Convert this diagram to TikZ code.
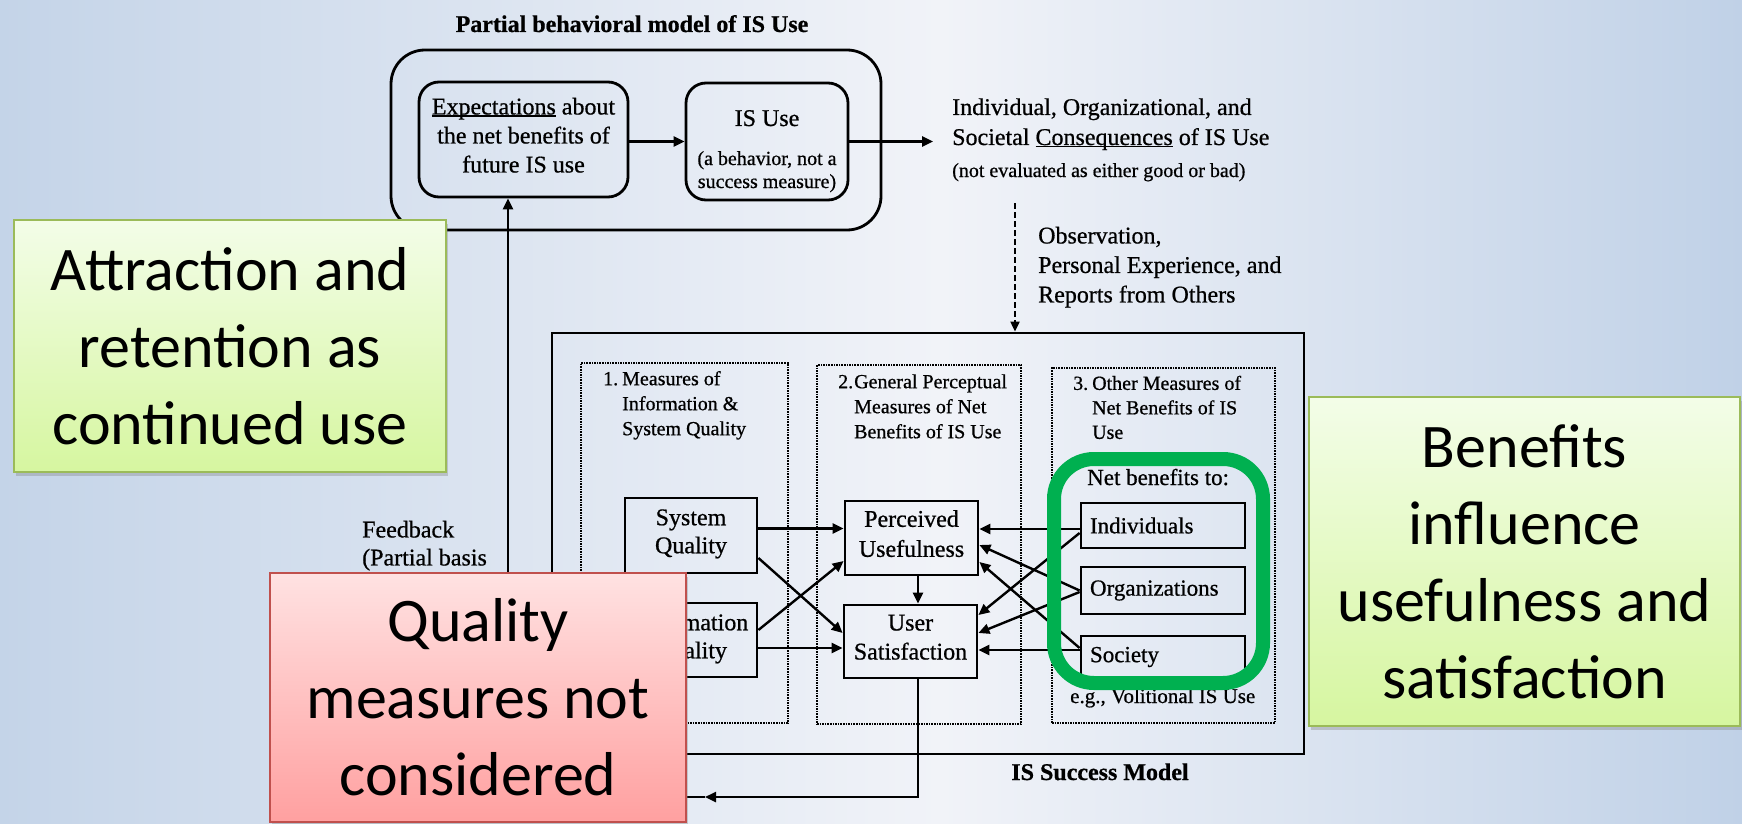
\documentclass[tikz,border=0pt]{standalone}
\usepackage{fontspec}
\setmainfont{Liberation Serif}[RawFeature={embolden=0.7}]
\newfontfamily\calloutfont{Carlito}
\usetikzlibrary{arrows.meta,calc,shadows}

\definecolor{hlgreen}{RGB}{0,176,80}
\definecolor{cgtop}{RGB}{243,253,232}
\definecolor{cgbot}{RGB}{214,246,160}
\definecolor{cgborder}{RGB}{155,187,89}
\definecolor{crtop}{RGB}{255,226,226}
\definecolor{crbot}{RGB}{255,160,160}
\definecolor{crborder}{RGB}{192,80,77}

\pgfdeclarehorizontalshading{pagebg}{100bp}{%
  rgb(0bp)=(0.769,0.831,0.910);
  rgb(25bp)=(0.769,0.831,0.910);
  rgb(52bp)=(0.945,0.953,0.973);
  rgb(75bp)=(0.753,0.820,0.906);
  rgb(100bp)=(0.753,0.820,0.906)}

% underline set close to the baseline
\newsavebox\ulbox
\newcommand\baseul[1]{\sbox\ulbox{#1}\rlap{\rule[-2.2pt]{\wd\ulbox}{1.3pt}}\usebox{\ulbox}}

\begin{document}
\begin{tikzpicture}[x=1pt,y=-1pt,
  arr/.style={line width=2.4pt,-{Triangle[length=11pt,width=10pt]}},
  box/.style={draw,line width=2.8pt,inner sep=0pt,align=center},
  rbox/.style={box,rounded corners=20pt},
  colbox/.style={draw,densely dotted,line width=1.6pt,inner sep=0pt},
  nbox/.style={box,text width=146pt,inner xsep=9pt,align=left,
    font=\fontsize{23}{28}\selectfont},
  big/.style={font=\fontsize{24}{29}\selectfont},
  small/.style={font=\fontsize{20}{24}\selectfont},
  plain/.style={inner sep=0pt},
  callout/.style={line width=2.5pt,align=center,inner sep=0pt,
    font=\calloutfont\fontsize{62}{77}\selectfont,
    drop shadow={shadow xshift=2pt,shadow yshift=-4pt,opacity=.35}},
  callgreen/.style={callout,draw=cgborder,top color=cgtop,bottom color=cgbot},
  callred/.style={callout,draw=crborder,top color=crtop,bottom color=crbot}]

\useasboundingbox (0,0) rectangle (1742,824);
\shade[shading=pagebg] (0,0) rectangle (1742,824);

% ---- partial behavioral model ----
\node[plain,anchor=base,font=\bfseries\fontsize{24}{28}\selectfont] (PBtitle) at (632,32)
  {Partial behavioral model of IS Use};
\node[rbox,rounded corners=34pt,minimum width=490pt,minimum height=180pt] (PB) at (636,140) {};
\node[rbox,minimum width=209pt,minimum height=115pt,big] (Exp) at (523.5,139.5)
  {\baseul{Expectations} about\\the net benefits of\\future IS use\strut};
\node[rbox,minimum width=162pt,minimum height=117pt] (ISUse) at (767,141.5) {};
\node[plain,anchor=base,big] (ISUseA) at (767,126) {IS Use};
\node[plain,anchor=base,small] (ISUseB) at (767,165) {(a behavior, not a};
\node[plain,anchor=base,small] (ISUseC) at (767,188) {success measure)};

\node[plain,anchor=base west,big] (cons1) at (952,115) {Individual, Organizational, and};
\node[plain,anchor=base west,big] (cons2) at (952,145) {Societal \baseul{Consequences} of IS Use};
\node[plain,anchor=base west,small] (cons3) at (952,177) {(not evaluated as either good or bad)};

\draw[arr] (Exp.east |- ISUse.west) -- (ISUse.west);
\draw[arr] (ISUse.east) -- ($(cons2.west |- ISUse.east)+(-19,0)$);

\node[plain,anchor=north west,align=left,font=\fontsize{24}{29.5}\selectfont] (obs) at (1038,226.6)
  {Observation,\\Personal Experience, and\\Reports from Others};

% ---- IS success model ----
\node[draw,line width=2.8pt,inner sep=0pt,minimum width=752pt,minimum height=421pt] (ISS) at (928,543.5) {};
\node[plain,anchor=base,font=\bfseries\fontsize{24}{28}\selectfont] (ISStitle) at (1100,780) {IS Success Model};

\coordinate (dashTop) at (1015,203);
\draw[line width=2pt,dash pattern=on 6pt off 3pt,-{Triangle[length=10pt,width=9pt]}]
  (dashTop) -- (dashTop |- ISS.north);

\node[colbox,minimum width=207pt,minimum height=360pt] (C1) at (684.5,543) {};
\node[colbox,minimum width=204pt,minimum height=359pt] (C2) at (919,544.5) {};
\node[colbox,minimum width=223pt,minimum height=355pt] (C3) at (1163.5,545.5) {};

\node[plain,anchor=north west,font=\fontsize{20}{25}\selectfont] (C1t) at (603,367.5)
  {\begin{tabular}{@{}l@{\hspace{4pt}}l@{}}1. & Measures of\\ & Information \&\\ & System Quality\end{tabular}};
\node[plain,anchor=north west,font=\fontsize{20}{25}\selectfont] (C2t) at (838,370.5)
  {\begin{tabular}{@{}l@{\hspace{1pt}}l@{}}2. & General Perceptual\\ & Measures of Net\\ & Benefits of IS Use\end{tabular}};
\node[plain,anchor=north west,font=\fontsize{20}{24.5}\selectfont] (C3t) at (1073,372.5)
  {\begin{tabular}{@{}l@{\hspace{4pt}}l@{}}3. & Other Measures of\\ & Net Benefits of IS\\ & Use\end{tabular}};

\node[box,minimum width=132pt,minimum height=75pt,font=\fontsize{24}{28}\selectfont] (SQ) at (691,535.5)
  {System\\Quality\strut};
\node[box,minimum width=132pt,minimum height=74pt,font=\fontsize{24}{28}\selectfont] (IQ) at (691,640)
  {Information\\Quality\strut};
\node[box,minimum width=133pt,minimum height=74pt,font=\fontsize{24}{30}\selectfont] (PU) at (911.5,538)
  {Perceived\\Usefulness\strut};
\node[box,minimum width=133pt,minimum height=73pt,font=\fontsize{24}{29}\selectfont] (US) at (910.5,641.5)
  {User\\Satisfaction\strut};

\node[plain,anchor=base west,font=\fontsize{23}{28}\selectfont] (NBt) at (1087,485) {Net benefits to:};
\node[nbox,minimum height=45pt] (Ind) at (1163,525.5) {Individuals};
\node[nbox,minimum height=47pt] (Org) at (1163,590.5) {Organizations};
\node[nbox,minimum height=42pt] (Soc) at (1163,657) {Society};
\node[plain,anchor=base west,font=\fontsize{21}{25}\selectfont] (eg) at (1070,703) {e.g., Volitional IS Use};

% quality -> perceptions
\draw[arr] ([yshift=7pt]SQ.east) -- ([yshift=7pt]SQ.east -| PU.west);
\draw[arr] ([yshift=-22.5pt]SQ.east) -- ([yshift=8.5pt]US.west);
\draw[arr] ([yshift=10pt]IQ.east) -- ([yshift=-23pt]PU.west);
\draw[arr] ([yshift=-8pt]IQ.east) -- ([yshift=-8pt]IQ.east -| US.west);
\draw[arr] ([xshift=6.5pt]PU.south) -- ([xshift=6.5pt]PU.south |- US.north);

% net benefits -> perceptions
\draw[arr] ([yshift=-3.5pt]Ind.west) -- ([yshift=-3.5pt]Ind.west -| PU.east);
\draw[arr] ([yshift=-7.5pt]Ind.west) -- ([yshift=26.5pt]US.east);
\draw[arr] (Org.west) -- ([yshift=-7pt]PU.east);
\draw[arr] ([yshift=-1.5pt]Org.west) -- ([yshift=8.5pt]US.east);
\draw[arr] ([yshift=9pt]Soc.west) -- ([yshift=-24pt]PU.east);
\draw[arr] ([yshift=7pt]Soc.west) -- ([yshift=7pt]Soc.west -| US.east);

% feedback loop
\coordinate (fbLow) at (918,797);
\coordinate (fbMid) at (705,797);
\coordinate (fbLeft) at (508,797);
\draw[arr] ([xshift=7.5pt]US.south) -- ([xshift=7.5pt]US.south |- fbLow) -- (fbMid);
\draw[arr] (fbMid) -- (fbLeft) -- (fbLeft |- Exp.south);
\node[plain,anchor=north west,align=left,font=\fontsize{24}{28}\selectfont] (fbText) at (362,520.6)
  {Feedback\\(Partial basis};

% highlight of the net benefit measures
\node[draw=hlgreen,line width=14pt,rounded corners=40pt,inner sep=0pt,
  minimum width=209pt,minimum height=224pt] (HL) at (1158.5,571) {};

% ---- callouts ----
\node[callgreen,minimum width=432pt,minimum height=252pt] (CG1) at (230,346)
  {Attraction and\\retention as\\continued use};
\node[callgreen,minimum width=431pt,minimum height=329pt] (CG2) at (1524.5,561.5)
  {Benefits\\influence\\usefulness and\\satisfaction};
\node[callred,minimum width=416pt,minimum height=249pt] (CR) at (478,697.5)
  {Quality\\measures not\\considered};
\end{tikzpicture}
\end{document}
